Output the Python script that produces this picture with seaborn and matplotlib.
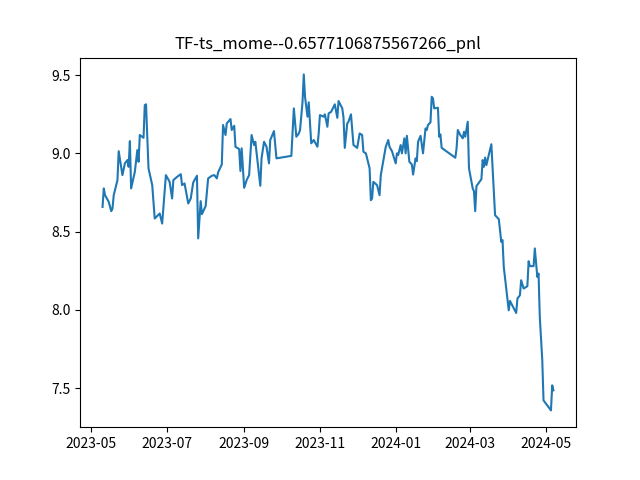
import matplotlib
matplotlib.use("Agg")
import matplotlib.pyplot as plt
import seaborn as sns
import pandas as pd

plt.rcParams["font.family"] = ["Noto Sans CJK SC", "DejaVu Sans"]
plt.rcParams["axes.unicode_minus"] = False

TITLE = "TF-ts_mome--0.6577106875567266_pnl"

# trade dates and pnl values
dates = [
    "2023-05-10", "2023-05-11", "2023-05-12", "2023-05-15", "2023-05-17", "2023-05-18",
    "2023-05-19", "2023-05-22", "2023-05-23", "2023-05-26", "2023-05-28", "2023-05-30",
    "2023-05-31", "2023-06-01", "2023-06-02", "2023-06-05", "2023-06-07", "2023-06-08",
    "2023-06-09", "2023-06-12", "2023-06-13", "2023-06-14", "2023-06-16", "2023-06-19",
    "2023-06-21", "2023-06-25", "2023-06-27", "2023-06-30", "2023-07-03", "2023-07-05",
    "2023-07-06", "2023-07-09", "2023-07-12", "2023-07-13", "2023-07-15", "2023-07-18",
    "2023-07-20", "2023-07-22", "2023-07-25", "2023-07-26", "2023-07-28", "2023-07-29",
    "2023-08-01", "2023-08-03", "2023-08-06", "2023-08-08", "2023-08-10", "2023-08-11",
    "2023-08-14", "2023-08-15", "2023-08-17", "2023-08-18", "2023-08-21", "2023-08-22",
    "2023-08-24", "2023-08-25", "2023-08-28", "2023-08-29", "2023-08-30", "2023-09-01",
    "2023-09-03", "2023-09-05", "2023-09-07", "2023-09-09", "2023-09-10", "2023-09-14",
    "2023-09-15", "2023-09-17", "2023-09-19", "2023-09-21", "2023-09-22", "2023-09-25",
    "2023-09-27", "2023-10-09", "2023-10-11", "2023-10-13", "2023-10-15", "2023-10-16",
    "2023-10-18", "2023-10-19", "2023-10-20", "2023-10-22", "2023-10-23", "2023-10-25",
    "2023-10-27", "2023-10-30", "2023-10-31", "2023-11-01", "2023-11-04", "2023-11-05",
    "2023-11-07", "2023-11-08", "2023-11-10", "2023-11-13", "2023-11-15", "2023-11-16",
    "2023-11-19", "2023-11-20", "2023-11-21", "2023-11-23", "2023-11-24", "2023-11-26",
    "2023-11-28", "2023-12-01", "2023-12-03", "2023-12-05", "2023-12-06", "2023-12-08",
    "2023-12-11", "2023-12-12", "2023-12-13", "2023-12-14", "2023-12-17", "2023-12-19",
    "2023-12-20", "2023-12-24", "2023-12-26", "2023-12-27", "2023-12-29", "2024-01-01",
    "2024-01-02", "2024-01-03", "2024-01-05", "2024-01-06", "2024-01-08", "2024-01-09",
    "2024-01-10", "2024-01-12", "2024-01-14", "2024-01-15", "2024-01-17", "2024-01-18",
    "2024-01-19", "2024-01-21", "2024-01-23", "2024-01-25", "2024-01-26", "2024-01-27",
    "2024-01-29", "2024-01-30", "2024-01-31", "2024-02-01", "2024-02-04", "2024-02-05",
    "2024-02-06", "2024-02-07", "2024-02-18", "2024-02-19", "2024-02-20", "2024-02-22",
    "2024-02-24", "2024-02-25", "2024-02-26", "2024-02-28", "2024-02-29", "2024-03-03",
    "2024-03-04", "2024-03-05", "2024-03-06", "2024-03-10", "2024-03-11", "2024-03-12",
    "2024-03-13", "2024-03-14", "2024-03-18", "2024-03-21", "2024-03-24", "2024-03-26",
    "2024-03-27", "2024-03-28", "2024-04-01", "2024-04-02", "2024-04-07", "2024-04-08",
    "2024-04-10", "2024-04-11", "2024-04-13", "2024-04-16", "2024-04-17", "2024-04-18",
    "2024-04-21", "2024-04-22", "2024-04-24", "2024-04-25", "2024-04-26", "2024-04-28",
    "2024-04-29", "2024-05-05", "2024-05-06", "2024-05-07",
]

pnl = [
    8.658, 8.776, 8.733, 8.690, 8.631, 8.648,
    8.733, 8.829, 9.014, 8.861, 8.936, 8.957,
    8.914, 9.078, 8.776, 8.882, 9.021, 8.946,
    9.117, 9.099, 9.308, 9.313, 8.904, 8.797,
    8.584, 8.616, 8.552, 8.861, 8.818, 8.712,
    8.829, 8.850, 8.867, 8.797, 8.808, 8.680,
    8.712, 8.814, 8.857, 8.457, 8.695, 8.612,
    8.663, 8.840, 8.857, 8.861, 8.840, 8.878,
    8.929, 9.181, 9.117, 9.191, 9.219, 9.149,
    9.176, 9.042, 9.027, 8.887, 9.032, 8.780,
    8.829, 8.861, 9.117, 9.053, 9.074, 8.793,
    8.968, 9.074, 9.042, 8.936, 9.085, 9.142,
    8.968, 8.984, 9.287, 9.106, 9.127, 9.149,
    9.329, 9.504, 9.361, 9.234, 9.326, 9.064,
    9.085, 9.042, 9.127, 9.244, 9.234, 9.249,
    9.170, 9.255, 9.265, 9.313, 9.227, 9.334,
    9.287, 9.227, 9.035, 9.191, 9.202, 9.249,
    9.053, 9.035, 9.127, 9.117, 9.010, 9.000,
    8.904, 8.701, 8.712, 8.818, 8.797, 8.733,
    8.861, 9.042, 9.085, 9.042, 9.014, 8.936,
    9.000, 8.989, 9.053, 9.000, 9.096, 9.000,
    9.112, 8.946, 8.929, 8.865, 8.968, 8.950,
    9.074, 9.112, 9.000, 9.159, 9.149, 9.181,
    9.198, 9.361, 9.351, 9.287, 9.291, 9.106,
    9.121, 9.035, 8.972, 9.032, 9.149, 9.117,
    9.096, 9.138, 9.106, 9.202, 8.904, 8.776,
    8.759, 8.631, 8.791, 8.835, 8.957, 8.914,
    8.973, 8.925, 9.058, 8.605, 8.580, 8.435,
    8.446, 8.275, 7.998, 8.058, 7.981, 8.073,
    8.094, 8.190, 8.137, 8.152, 8.311, 8.280,
    8.280, 8.393, 8.211, 8.233, 7.956, 7.679,
    7.423, 7.359, 7.519, 7.487,
]

df = pd.DataFrame({"date": pd.to_datetime(dates), "pnl": pnl})

fig, ax = plt.subplots(figsize=(6.4, 4.8), dpi=100)
sns.lineplot(data=df, x="date", y="pnl", ax=ax, color="#1f77b4", linewidth=1.5)
ax.set_title(TITLE)
ax.set_xlabel("")
ax.set_ylabel("")

fig.savefig("out.png", dpi=100)
